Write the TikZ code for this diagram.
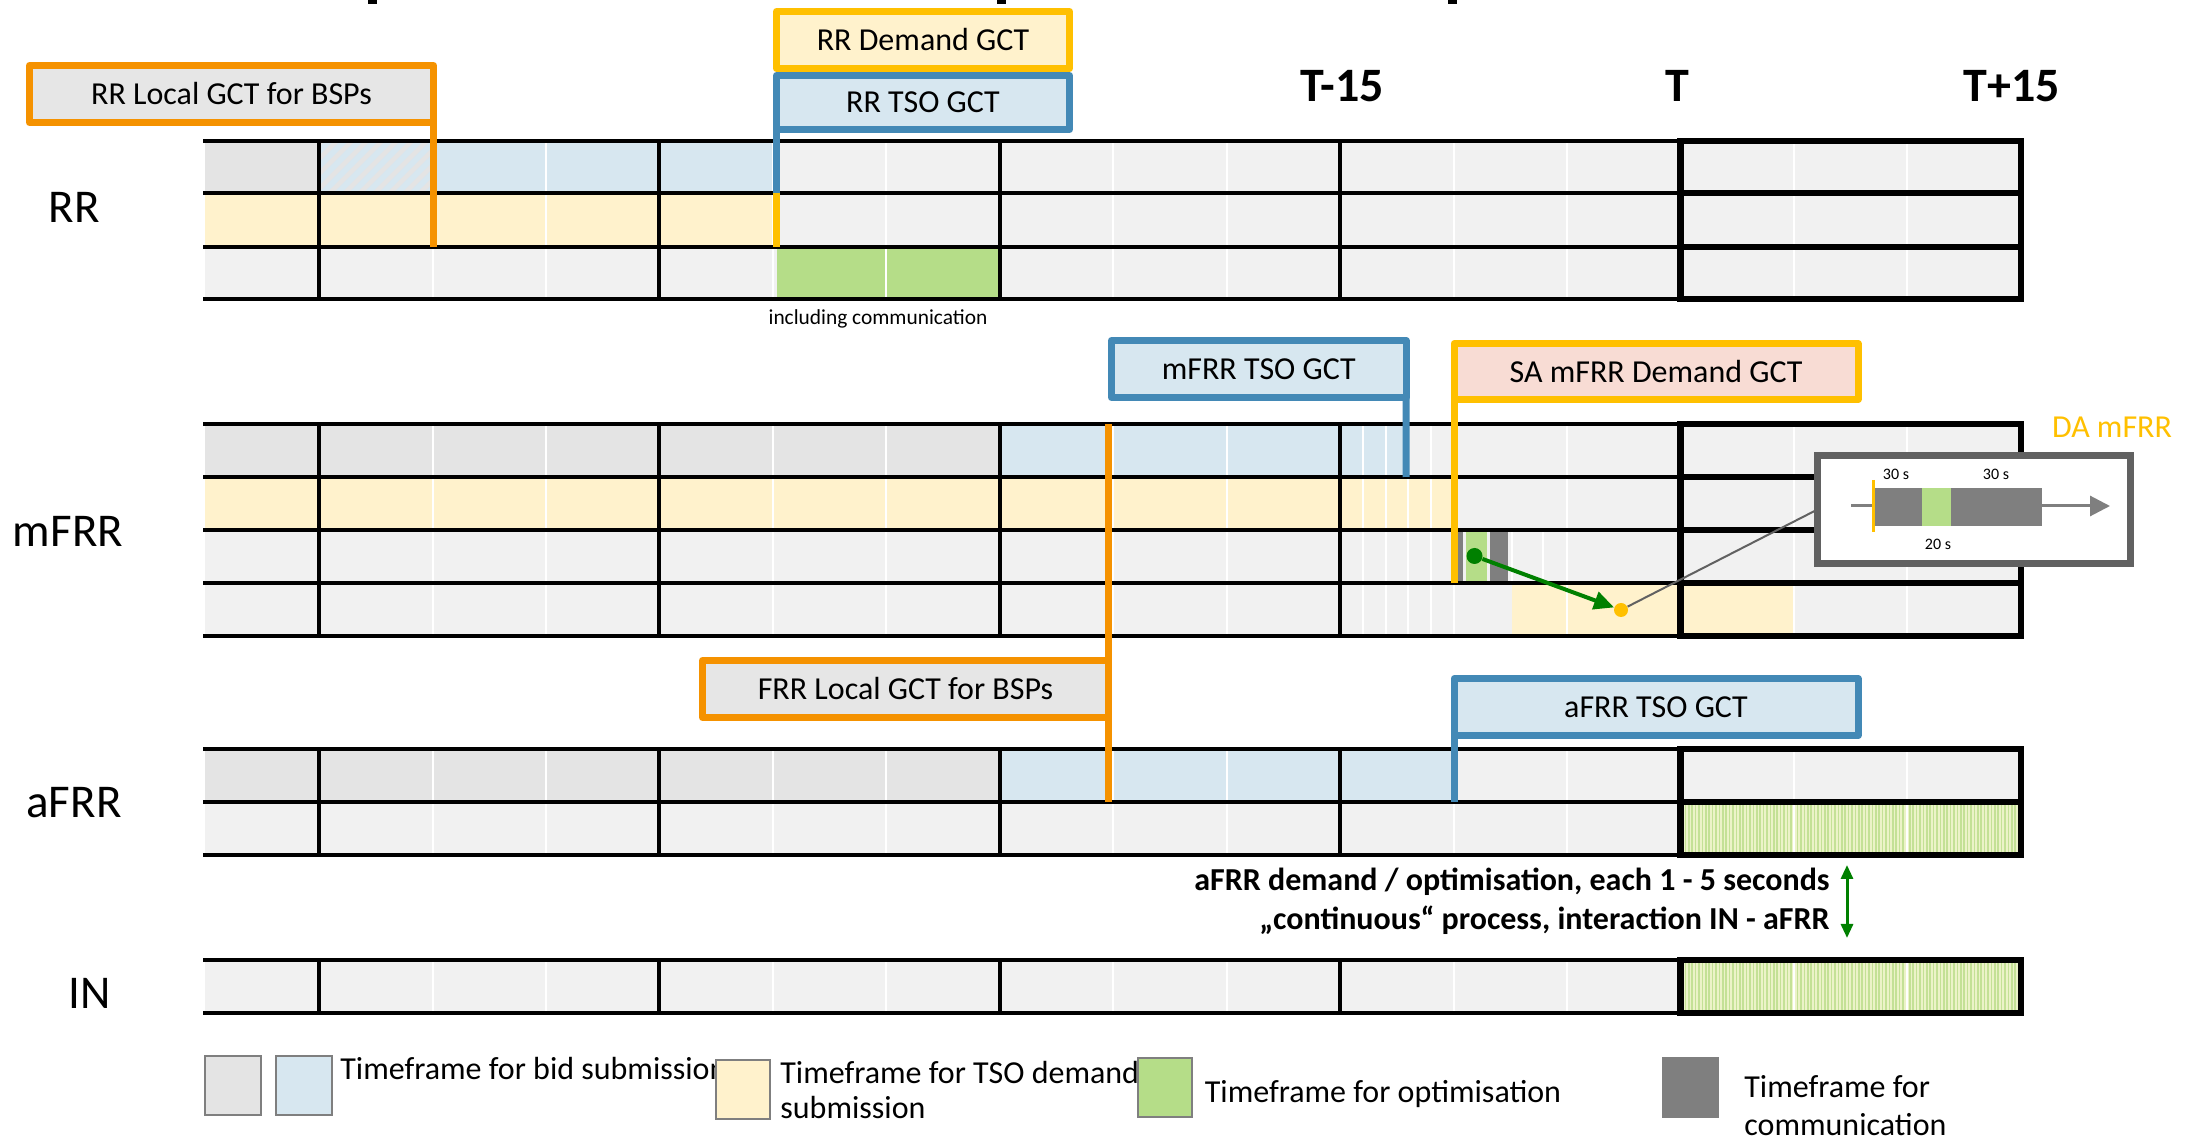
\documentclass[tikz,border=0pt]{standalone}
\usepackage{fontspec}
\setmainfont{Carlito}
\usetikzlibrary{arrows.meta}
\definecolor{orangeC}{RGB}{245,146,0}
\definecolor{yellowC}{RGB}{255,192,0}
\definecolor{blueC}{RGB}{67,137,182}
\definecolor{lblue}{RGB}{215,231,240}
\definecolor{lyellow}{RGB}{255,242,204}
\definecolor{gD}{RGB}{228,228,228}
\definecolor{gL}{RGB}{241,241,241}
\definecolor{gBox}{RGB}{230,230,230}
\definecolor{greenC}{RGB}{181,221,136}
\definecolor{dgray}{RGB}{127,127,127}
\definecolor{pinkC}{RGB}{248,220,212}
\definecolor{insetC}{RGB}{97,97,97}
\definecolor{arrowG}{RGB}{0,128,0}
\definecolor{stripeA}{RGB}{236,243,200}
\definecolor{stripeB}{RGB}{196,225,150}
\begin{document}
\begin{tikzpicture}[x=0.5pt,y=-0.5pt,
  gctbox/.style={draw, line width=3.5pt, inner sep=0pt, outer sep=0pt, line join=round, font=\fontsize{16pt}{19pt}\selectfont},
  gridline/.style={line width=2pt},
  tline/.style={line width=3.25pt},
  wline/.style={white, line width=1pt},
  gctline/.style={line width=3.5pt},
  rowlab/.style={anchor=base, inner sep=0pt, font=\fontsize{23.5pt}{28pt}\selectfont},
  tlab/.style={anchor=base, inner sep=0pt, font=\fontsize{24pt}{28pt}\selectfont\bfseries},
  legbox/.style={draw=dgray, line width=1pt, minimum width=28pt, minimum height=29.5pt, inner sep=0pt},
  legtext/.style={anchor=base west, inner sep=0pt, font=\fontsize{16pt}{19pt}\selectfont},
  tinylab/.style={anchor=base, inner sep=0pt, font=\fontsize{8pt}{9pt}\selectfont},
  stripes/.style={stripeB, line width=0.85pt}
]
\useasboundingbox (0,0) rectangle (2192,1138);
\fill[white] (0,0) rectangle (2192,1138);

% cut-off marks at the top
\fill (368,0) rectangle (377,4);
\fill (997,0) rectangle (1006,4);
\fill (1448,0) rectangle (1457,4);

% ================= fills =================
% RR
\fill[gL] (205,141) rectangle (2020.8,299);
\fill[gD] (205,141) rectangle (319,193);
\begin{scope}
  \clip (319,141) rectangle (434,193);
  \fill[lblue] (319,141) rectangle (434,193);
  \foreach \i in {240,255,...,450} \draw[gD, line width=2.3pt] (\i,193) -- ++(52,-52);
\end{scope}
\fill[lblue] (434,141) rectangle (776.5,193);
\fill[lyellow] (205,193) rectangle (776.5,247);
\fill[greenC] (776.5,247) rectangle (999.7,299);
% mFRR
\fill[gL] (205,424) rectangle (2020.8,636);
\fill[gD] (205,424) rectangle (999.7,477);
\fill[lblue] (999.7,424) rectangle (1406,477);
\fill[lyellow] (205,477) rectangle (1454,530);
\fill[dgray] (1456,530) rectangle (1463,583);
\fill[greenC] (1466,530) rectangle (1486.5,583);
\fill[dgray] (1490,530) rectangle (1507.5,583);
\fill[lyellow] (1512,583) rectangle (1793,636);
% aFRR
\fill[gL] (205,749) rectangle (2020.8,855);
\fill[gD] (205,749) rectangle (999.7,802);
\fill[lblue] (999.7,749) rectangle (1454,802);
\fill[stripeA] (1680.4,802) rectangle (2020.8,855);
\foreach \x in {1682,1685.4,...,2020} \draw[stripes] (\x,802) -- (\x,855);
% IN
\fill[gL] (205,960) rectangle (2020.8,1013);
\fill[stripeA] (1680.4,960) rectangle (2020.8,1013);
\foreach \x in {1682,1685.4,...,2020} \draw[stripes] (\x,960) -- (\x,1013);

% ================= white sub-lines =================
\foreach \x in {432.5,545.9,772.8,886.3,1113.2,1226.6,1453.5,1567,1793.9,1907.3} {
  \draw[wline] (\x,141) -- (\x,299);
  \draw[wline] (\x,424) -- (\x,636);
  \draw[wline] (\x,749) -- (\x,855);
  \draw[wline] (\x,960) -- (\x,1013);
}
\foreach \x in {1362.8,1385.5,1408.2,1430.9} \draw[wline] (\x,424) -- (\x,636);
\foreach \x in {1512,1543} \draw[wline] (\x,530) -- (\x,583);

% ================= black grid =================
% RR
\foreach \y in {141,193,247,299} \draw[gridline] (203,\y) -- (1680.4,\y);
\foreach \x in {319,659.4,999.7,1340.1} \draw[gridline] (\x,141) -- (\x,299);
\draw[tline] (1680.4,141) rectangle (2020.8,299);
\foreach \y in {193,247} \draw[tline] (1680.4,\y) -- (2020.8,\y);
% mFRR
\foreach \y in {424,477,530,583,636} \draw[gridline] (203,\y) -- (1680.4,\y);
\foreach \x in {319,659.4,999.7,1340.1} \draw[gridline] (\x,424) -- (\x,636);
\draw[tline] (1680.4,424) rectangle (2020.8,636);
\foreach \y in {477,530,583} \draw[tline] (1680.4,\y) -- (2020.8,\y);
% aFRR
\foreach \y in {749,802,855} \draw[gridline] (203,\y) -- (1680.4,\y);
\foreach \x in {319,659.4,999.7,1340.1} \draw[gridline] (\x,749) -- (\x,855);
\draw[tline] (1680.4,749) rectangle (2020.8,855);
\draw[tline] (1680.4,802) -- (2020.8,802);
% IN
\foreach \y in {960,1013} \draw[gridline] (203,\y) -- (1680.4,\y);
\foreach \x in {319,659.4,999.7,1340.1} \draw[gridline] (\x,960) -- (\x,1013);
\draw[tline] (1680.4,960) rectangle (2020.8,1013);

% ================= row labels =================
\node[rowlab] (lRR) at (74,223) {RR};
\node[rowlab] (lmFRR) at (68,547) {mFRR};
\node[rowlab] (laFRR) at (74,818) {aFRR};
\node[rowlab] (lIN) at (90,1008) {IN};

% time labels
\node[tlab] (tm15) at (1342,102) {T-15};
\node[tlab] (t0) at (1677,102) {T};
\node[tlab] (tp15) at (2012,102) {T+15};

% ================= GCT boxes =================
\node[gctbox, draw=orangeC, fill=gBox, minimum width=202pt, minimum height=28.5pt] (rrlocal) at (231.5,94) {RR Local GCT for BSPs};
\node[gctbox, draw=yellowC, fill=lyellow, minimum width=146.5pt, minimum height=28.5pt] (rrdemand) at (923,40) {RR Demand GCT};
\node[gctbox, draw=blueC, fill=lblue, minimum width=146.5pt, minimum height=27pt] (rrtso) at (923,102.5) {RR TSO GCT};
\node[gctbox, draw=blueC, fill=lblue, minimum width=147.25pt, minimum height=28.5pt] (mfrrtso) at (1258.75,369) {mFRR TSO GCT};
\node[gctbox, draw=yellowC, fill=pinkC, minimum width=202pt, minimum height=28pt] (samfrr) at (1656,371.5) {SA mFRR Demand GCT};
\node[gctbox, draw=orangeC, fill=gBox, minimum width=203pt, minimum height=28.5pt] (frrlocal) at (905.5,689) {FRR Local GCT for BSPs};
\node[gctbox, draw=blueC, fill=lblue, minimum width=202pt, minimum height=28.5pt] (afrrtso) at (1656,707) {aFRR TSO GCT};

\coordinate (rrlocalend) at (433.5,247);
\coordinate (rrtsoend) at (776.5,193);
\coordinate (rrdemandend) at (776.5,247);
\coordinate (mfrrtsoend) at (1406.125,477);
\coordinate (samfrrend) at (1454,583);
\coordinate (frrtop) at (1108.5,424);
\coordinate (frrbot) at (1108.5,802);
\coordinate (afrrtsoend) at (1454,802);

\draw[gctline, orangeC] (rrlocal.south east) -- (rrlocalend);
\draw[gctline, blueC] (rrtso.south west) -- (rrtsoend);
\draw[gctline, yellowC] (rrtsoend) -- (rrdemandend);
\draw[gctline, blueC] (mfrrtso.south east) -- (mfrrtsoend);
\draw[gctline, yellowC] (samfrr.south west) -- (samfrrend);
\draw[gctline, orangeC] (frrlocal.north east) -- (frrtop);
\draw[gctline, orangeC] (frrlocal.south east) -- (frrbot);
\draw[gctline, blueC] (afrrtso.south west) -- (afrrtsoend);

\node[anchor=base, inner sep=0pt, font=\fontsize{10.7pt}{12pt}\selectfont] (inclcomm) at (878,325) {including communication};

% ================= mFRR detail =================
\node[circle, fill=arrowG, inner sep=0pt, minimum size=8pt] (gdot) at (1474.5,556) {};
\node[circle, fill=yellowC, inner sep=0pt, minimum size=7pt] (ydot) at (1621,610) {};
\draw[arrowG, line width=2pt, -{Triangle[length=10pt,width=9pt]}] (gdot) -- (ydot);

\node[anchor=base, inner sep=0pt, text=yellowC, font=\fontsize{16pt}{19pt}\selectfont] (damfrr) at (2112,438) {DA mFRR};

\node[draw=insetC, fill=white, line width=3.5pt, inner sep=0pt, outer sep=0pt, minimum width=156.5pt, minimum height=54pt] (inset) at (1974,509.5) {};
\draw[insetC, line width=1pt] (ydot) -- (inset.west);
\coordinate (axs) at (1851,506);
\coordinate (axe) at (2110,506);
\draw[dgray, line width=1.5pt, -{Triangle[length=10pt,width=10pt]}] (axs) -- (axe);
\fill[dgray] (1875,488) rectangle (1922,526);
\fill[greenC] (1922,488) rectangle (1951,526);
\fill[dgray] (1951,488) rectangle (2042,526);
\draw[yellowC, line width=1.5pt] (1873,480) -- (1873,532);
\node[tinylab] (l30a) at (1896,480) {30 s};
\node[tinylab] (l30b) at (1996,480) {30 s};
\node[tinylab] (l20) at (1938,550) {20 s};

% ================= aFRR text =================
\node[anchor=base east, inner sep=0pt, font=\fontsize{16pt}{19pt}\selectfont\bfseries] (afrrtxt1) at (1830,891) {aFRR demand / optimisation, each 1 - 5 seconds};
\node[anchor=base east, inner sep=0pt, font=\fontsize{16pt}{19pt}\selectfont\bfseries] (afrrtxt2) at (1830,929) {„continuous“ process, interaction IN - aFRR};
\coordinate (da1) at (1847,865);
\coordinate (da2) at (1847,938);
\draw[arrowG, line width=1.5pt, {Triangle[length=7pt,width=6pt]}-{Triangle[length=7pt,width=6pt]}] (da1) -- (da2);

% ================= legend =================
\node[legtext] (lt1) at (340,1079) {Timeframe for bid submission};
\node[legtext] (lt2) at (780,1083) {Timeframe for TSO demand};
\node[legtext] (lt2b) at (780,1118) {submission};
\node[legtext] (lt3) at (1204.5,1102) {Timeframe for optimisation};
\node[legtext] (lt4) at (1744,1097) {Timeframe for};
\node[legtext] (lt4b) at (1744,1135) {communication};
\node[legbox, fill=gD] (lg1) at (233,1085.5) {};
\node[legbox, fill=lblue] (lg2) at (304,1085.5) {};
\node[legbox, fill=lyellow, minimum width=27pt] (lg3) at (743,1089.5) {};
\node[legbox, fill=greenC, minimum width=27pt] (lg4) at (1165,1087.5) {};
\node[legbox, fill=dgray, minimum width=27.75pt] (lg5) at (1690.5,1087.5) {};
\end{tikzpicture}
\end{document}
